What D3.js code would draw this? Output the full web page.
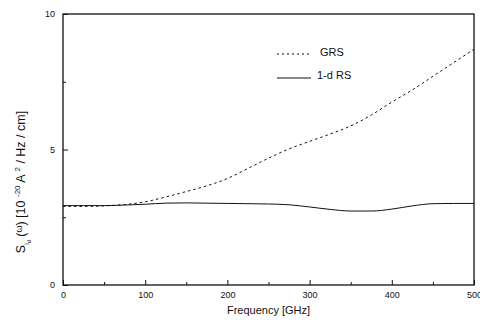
<!DOCTYPE html>
<html>
<head>
<meta charset="utf-8">
<script src="https://cdn.jsdelivr.net/npm/d3@7"></script>
<style>
  body { margin: 0; background: #fff; }
  text { font-family: "Liberation Sans", Arial, sans-serif; fill: #111; }
</style>
</head>
<body>
<svg width="480" height="328"></svg>
<script>
// frequency grid (GHz) and the two curves
var freq = [0, 25, 50, 75, 100, 125, 150, 175, 200, 225, 250, 275, 300, 325, 350, 375, 400, 425, 450, 475, 500];
var grs = [2.9, 2.9, 2.92, 2.97, 3.07, 3.25, 3.45, 3.66, 3.93, 4.3, 4.68, 5.02, 5.3, 5.57, 5.87, 6.27, 6.75, 7.2, 7.7, 8.2, 8.7];
var rs1d = [2.93, 2.93, 2.93, 2.95, 2.98, 3.02, 3.03, 3.02, 3.01, 3.0, 2.99, 2.96, 2.88, 2.79, 2.73, 2.73, 2.8, 2.92, 3.0, 3.01, 3.01];

var xMajor = [0, 100, 200, 300, 400, 500];
var xMinor = [50, 150, 250, 350, 450];
var yMajor = [0, 5, 10];
var yMinor = [2.5, 7.5];

var svg = d3.select('svg');
var padding = { t: 14, r: 6, b: 43, l: 63 };
var chartWidth = 480 - padding.l - padding.r;
var chartHeight = 328 - padding.t - padding.b;

var xScale = d3.scaleLinear().domain([0, 500]).range([0, chartWidth]);
var yScale = d3.scaleLinear().domain([0, 10]).range([chartHeight, 0]);

var chartG = svg.append('g')
    .attr('transform', `translate(${padding.l}, ${padding.t})`);

// frame
chartG.append('rect')
    .attr('width', chartWidth)
    .attr('height', chartHeight)
    .attr('fill', 'none')
    .attr('stroke', '#111')
    .attr('stroke-width', 1.3);

// bottom axis, ticks pointing inward
var xAxis = chartG.append('g')
    .attr('transform', 'translate(0,' + chartHeight + ')')
    .call(d3.axisBottom(xScale).tickValues(xMajor).tickSize(-5).tickPadding(7).tickFormat(d3.format('d')));
xAxis.select('.domain').remove();
xAxis.selectAll('text').style('font-size', '9px');

chartG.append('g')
    .attr('transform', 'translate(0,' + chartHeight + ')')
    .call(d3.axisBottom(xScale).tickValues(xMinor).tickSize(-3).tickFormat(''))
    .select('.domain').remove();

// left axis
var yAxis = chartG.append('g')
    .call(d3.axisLeft(yScale).tickValues(yMajor).tickSize(-5).tickPadding(8));
yAxis.select('.domain').remove();
yAxis.selectAll('text').style('font-size', '9px');

chartG.append('g')
    .call(d3.axisLeft(yScale).tickValues(yMinor).tickSize(-3).tickFormat(''))
    .select('.domain').remove();

chartG.selectAll('.tick line').attr('stroke', '#111').attr('stroke-width', 1);

// curves
var line = d3.line()
    .x(function(d) { return xScale(d[0]); })
    .y(function(d) { return yScale(d[1]); })
    .curve(d3.curveMonotoneX);

chartG.append('path')
    .datum(freq.map(function(f, i) { return [f, grs[i]]; }))
    .attr('d', line)
    .attr('fill', 'none')
    .attr('stroke', '#111')
    .attr('stroke-width', 1)
    .attr('stroke-dasharray', '2.5,3');

chartG.append('path')
    .datum(freq.map(function(f, i) { return [f, rs1d[i]]; }))
    .attr('d', line)
    .attr('fill', 'none')
    .attr('stroke', '#111')
    .attr('stroke-width', 1);

// legend
var legend = svg.append('g');
legend.append('line')
    .attr('x1', 277).attr('x2', 311).attr('y1', 54).attr('y2', 54)
    .attr('stroke', '#111').attr('stroke-width', 1).attr('stroke-dasharray', '2,3');
legend.append('text').attr('x', 320).attr('y', 56).text('GRS').style('font-size', '11px');
legend.append('line')
    .attr('x1', 277).attr('x2', 311).attr('y1', 78).attr('y2', 78)
    .attr('stroke', '#111').attr('stroke-width', 1);
legend.append('text').attr('x', 317).attr('y', 79).text('1-d RS').style('font-size', '11px');

// axis titles
svg.append('text')
    .attr('x', padding.l + chartWidth / 2)
    .attr('y', 314)
    .attr('text-anchor', 'middle')
    .style('font-size', '11px')
    .text('Frequency [GHz]');

var yTitle = svg.append('text')
    .attr('transform', 'translate(25,182) rotate(-90)')
    .attr('text-anchor', 'middle')
    .style('font-size', '12.5px');
yTitle.append('tspan').text('S');
yTitle.append('tspan').attr('dy', 4).style('font-size', '7px').text('i');
yTitle.append('tspan').attr('dy', 2).style('font-size', '5.5px').text('d');
yTitle.append('tspan').attr('dy', -6).style('font-size', '12.5px').text(' (');
yTitle.append('tspan').attr('dy', -3).style('font-size', '9px').text('ω');
yTitle.append('tspan').attr('dy', 3).style('font-size', '12.5px').text(') [10 ');
yTitle.append('tspan').attr('dy', -5).style('font-size', '8px').text('-20');
yTitle.append('tspan').attr('dy', 5).style('font-size', '12.5px').text(' A ');
yTitle.append('tspan').attr('dy', -5).style('font-size', '8px').text('2');
yTitle.append('tspan').attr('dy', 5).style('font-size', '12.5px').text(' / Hz / cm]');
</script>
</body>
</html>
